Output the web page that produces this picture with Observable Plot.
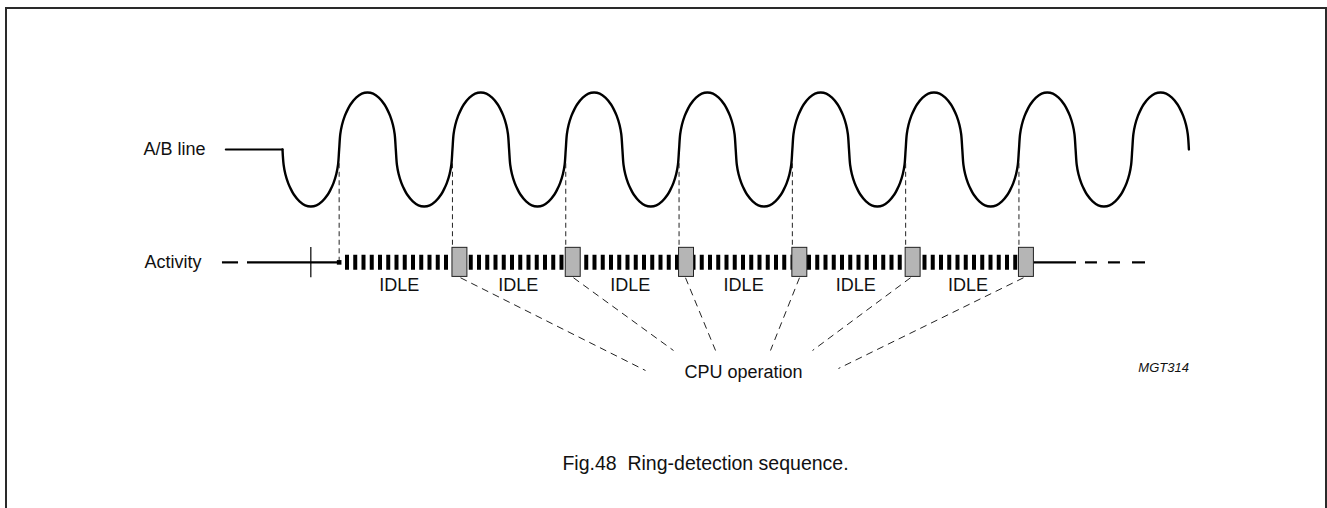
<!DOCTYPE html>
<html><head><meta charset="utf-8">
<script src="https://cdn.jsdelivr.net/npm/d3@7"></script>
<script src="https://cdn.jsdelivr.net/npm/@observablehq/plot@0.6"></script>
<style>
html,body{margin:0;padding:0;background:#fff;overflow:hidden;width:1327px;height:508px;}
#frame{position:absolute;left:5px;top:7px;width:1318px;height:520px;border:2px solid #2a2a2a;}
#chart{position:absolute;left:0;top:0;}
#caption{position:absolute;left:705.5px;top:463px;transform:translate(-50%,-50%);font:19.5px "Liberation Sans",Arial,sans-serif;white-space:pre;color:#111;}
</style></head><body>
<div id="frame"></div>
<div id="chart"></div>
<div id="caption"></div>
<script>
// ---- data (time in ring cycles, level in units of ring amplitude) ----
const abFlatT = [-0.5, 0];
// one half-cycle lobe of the ringing signal
const lobePhase = [0, 0.02, 0.05, 0.1, 0.15, 0.2, 0.3, 0.4, 0.5, 0.6, 0.7, 0.8, 0.85, 0.9, 0.95, 0.98, 1];
const lobeLevel = [0, 0.27, 0.43, 0.59, 0.7, 0.79, 0.91, 0.98, 1, 0.98, 0.91, 0.79, 0.7, 0.59, 0.43, 0.27, 0];
const lobeStart = [0, 0.5, 1, 1.5, 2, 2.5, 3, 3.5, 4, 4.5, 5, 5.5, 6, 6.5, 7, 7.5];
const lobeSign  = [-1, 1, -1, 1, -1, 1, -1, 1, -1, 1, -1, 1, -1, 1, -1, 1];
const activitySegStart = [-0.53, -0.309, 6.63, 7.087, 7.29, 7.502];
const activitySegEnd   = [-0.388, 0.5, 7.008, 7.193, 7.396, 7.617];
const enableTick = [0.25];
const idleStart = [0.556];
const idleEnd = [6.5];
const detectT = [0.5, 1.5, 2.5, 3.5, 4.5, 5.5, 6.5];
const cpuT = [1.5, 2.5, 3.5, 4.5, 5.5, 6.5];
const cpuWidth = 0.132;
const idleLabelT = [1.03, 2.08, 3.07, 4.07, 5.06, 6.05];
const leaderT1 = [1.571, 2.568, 3.557, 4.563, 5.543, 6.54];
const leaderT2 = [3.204, 3.451, 3.822, 4.307, 4.678, 4.907];
const leaderL2 = [-3.877, -3.526, -3.526, -3.526, -3.526, -3.842];
const rowLabels = ["A/B line", "Activity"];
const idleText = "IDLE";
const cpuText = "CPU operation";
const refText = "MGT314";
const captionText = "Fig.48  Ring-detection sequence.";

// ---- layout ----
const L = {
  abRow: 0, actRow: -1.98, boxHalf: 0.255, dashTop: -0.25,
  leaderTop: -2.25, idleRow: -2.386, cpuLabel: [4.069, -3.912], ref: [8, -3.825],
  labelT: [-0.68, -0.715]
};

const wave = [];
lobeStart.forEach((s, i) => {
  lobePhase.forEach((p, j) => {
    if (i > 0 && j === 0) return;
    wave.push({t: s + p * 0.5, v: lobeSign[i] * lobeLevel[j]});
  });
});
const segs = activitySegStart.map((s, i) => ({x1: s, x2: activitySegEnd[i]}));
const detects = detectT.map((t, i) => ({t, y2: i === 0 ? L.actRow : L.actRow + L.boxHalf}));
const leaders = leaderT1.map((t, i) => ({x1: t, x2: leaderT2[i], y2: leaderL2[i]}));

const font = "'Liberation Sans', Arial, sans-serif";
const chart = Plot.plot({
  width: 1327, height: 420, margin: 0,
  style: {fontFamily: font, background: "transparent", overflow: "visible"},
  x: {domain: [-2.489, 9.2233], axis: null},
  y: {domain: [-4.754, 2.614], axis: null},
  marks: [
    Plot.line(abFlatT, {x: d => d, y: () => L.abRow, stroke: "#000", strokeWidth: 2.2}),
    Plot.line(wave, {x: "t", y: "v", curve: "catmull-rom", stroke: "#000", strokeWidth: 2.4}),
    Plot.ruleX(detects, {x: "t", y1: L.dashTop, y2: "y2", stroke: "#222", strokeWidth: 1, strokeDasharray: "5 3.5"}),
    Plot.ruleY(segs, {y: L.actRow, x1: "x1", x2: "x2", stroke: "#000", strokeWidth: 2.2}),
    Plot.ruleX(enableTick, {x: d => d, y1: L.actRow + 0.26, y2: L.actRow - 0.27, stroke: "#000", strokeWidth: 1.2}),
    Plot.ruleY(idleStart, {y: L.actRow, x1: d => d, x2: (d, i) => idleEnd[i], stroke: "#000", strokeWidth: 15, strokeDasharray: "4 4.25", strokeLinecap: "butt"}),
    Plot.dot([detectT[0]], {x: d => d, y: L.actRow, symbol: "square", r: 2.6, fill: "#000", stroke: "none"}),
    Plot.rect(cpuT, {x1: d => d, x2: d => d + cpuWidth, y1: L.actRow - L.boxHalf, y2: L.actRow + L.boxHalf, fill: "#b5b5b5", stroke: "#222", strokeWidth: 1}),
    Plot.link(leaders, {x1: "x1", y1: L.leaderTop, x2: "x2", y2: "y2", stroke: "#222", strokeWidth: 1, strokeDasharray: "7 5"}),
    Plot.text(rowLabels, {x: (d, i) => L.labelT[i], y: (d, i) => i === 0 ? L.abRow : L.actRow, text: d => d, textAnchor: "end", fontSize: 18, fill: "#111"}),
    Plot.text(idleLabelT, {x: d => d, y: L.idleRow, text: () => idleText, fontSize: 18, fill: "#111"}),
    Plot.text([cpuText], {x: L.cpuLabel[0], y: L.cpuLabel[1], text: d => d, fontSize: 18, fill: "#111"}),
    Plot.text([refText], {x: L.ref[0], y: L.ref[1], text: d => d, textAnchor: "end", fontSize: 13, fontStyle: "italic", fill: "#111"})
  ]
});
document.getElementById("chart").appendChild(chart);
document.getElementById("caption").textContent = captionText;
</script>
</body></html>
